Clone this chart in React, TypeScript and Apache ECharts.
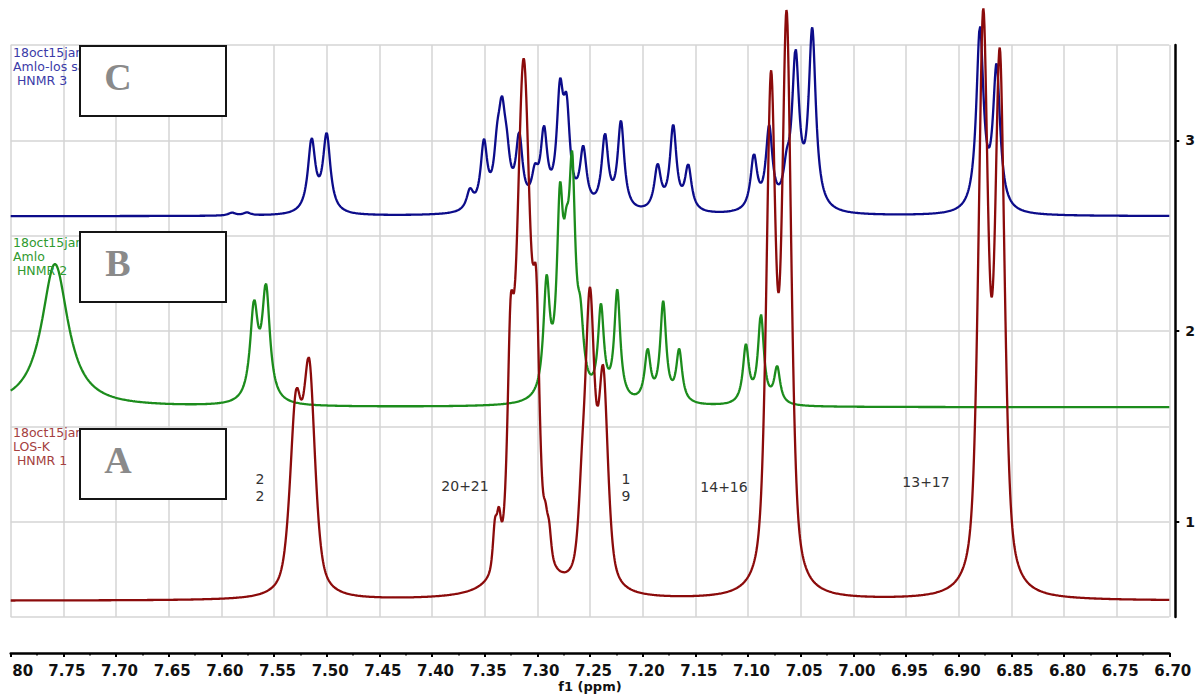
import React, { useEffect, useRef } from "react";
import * as echarts from "echarts";

// ---- axes ----
const PPM_MIN = 6.7;
const PPM_MAX = 7.8;
const PPM_STEP = 0.0005;
const PPM_TICK = 0.05;
const Y_MIN = 0.5;
const Y_MAX = 3.5;
const Y_STEP = 0.5;
const Y_LABELS = [1, 2, 3];

// ---- spectra: baselines, line-shape mix and peak tables [ppm, height, half-width (ppm)] ----
type Peak = [number, number, number];

const baselineA = 0.585; // LOS-K  HNMR 1
const baselineB = 1.6; // Amlo   HNMR 2
const baselineC = 2.602; // Amlo-los  HNMR 3

const lorentzFractionA = 0.6;
const lorentzFractionB = 1;
const lorentzFractionC = 1;

const peaksA: Peak[] = [
  [7.5293, 0.923, 0.0066],
  [7.5165, 1.122, 0.0066],
  [7.3403, 0.215, 0.0023],
  [7.3365, 0.215, 0.0023],
  [7.3255, 0.865, 0.0033],
  [7.313, 2.75, 0.008],
  [7.3009, 0.95, 0.0035],
  [7.2923, 0.14, 0.0023],
  [7.2888, 0.14, 0.0023],
  [7.2577, 0.3, 0.004],
  [7.2501, 1.46, 0.0053],
  [7.2374, 1.06, 0.0053],
  [7.0782, 2.58, 0.0052],
  [7.0633, 2.92, 0.0052],
  [6.8767, 2.93, 0.0054],
  [6.8609, 2.71, 0.0054],
];

const peaksB: Peak[] = [
  [7.758, 0.75, 0.0152],
  [7.569, 0.48, 0.0045],
  [7.5576, 0.58, 0.0045],
  [7.2912, 0.58, 0.0036],
  [7.2785, 0.91, 0.0036],
  [7.2724, 0.45, 0.0036],
  [7.2669, 1.05, 0.0036],
  [7.2591, 0.3, 0.0036],
  [7.2396, 0.47, 0.0034],
  [7.2241, 0.57, 0.0034],
  [7.1953, 0.26, 0.0034],
  [7.1805, 0.52, 0.0034],
  [7.1653, 0.27, 0.0034],
  [7.102, 0.3, 0.0034],
  [7.0877, 0.46, 0.0034],
  [7.0723, 0.19, 0.0034],
];

const peaksC: Peak[] = [
  [7.59, 0.015, 0.004],
  [7.5757, 0.015, 0.004],
  [7.5143, 0.375, 0.0043],
  [7.5, 0.404, 0.0043],
  [7.364, 0.1, 0.0038],
  [7.3507, 0.34, 0.0038],
  [7.3381, 0.24, 0.0038],
  [7.3336, 0.4, 0.0038],
  [7.3291, 0.2, 0.0038],
  [7.3172, 0.36, 0.0038],
  [7.3023, 0.15, 0.0038],
  [7.2937, 0.38, 0.0038],
  [7.2785, 0.55, 0.0038],
  [7.2722, 0.45, 0.0038],
  [7.2564, 0.3, 0.0038],
  [7.2358, 0.38, 0.0038],
  [7.2206, 0.46, 0.0038],
  [7.1858, 0.23, 0.0038],
  [7.171, 0.44, 0.0038],
  [7.1567, 0.23, 0.0038],
  [7.0944, 0.28, 0.0038],
  [7.0799, 0.42, 0.0038],
  [7.0633, 0.15, 0.0038],
  [7.0548, 0.78, 0.0041],
  [7.039, 0.93, 0.0041],
  [6.8798, 0.95, 0.0041],
  [6.864, 0.74, 0.0041],
];

// ---- texts ----
const SPECTRUM_LABELS = [
  { lines: ["18oct15jan", "Amlo-los salt", " HNMR 3"], color: "#3b3ba8", y: 52 },
  { lines: ["18oct15jan", "Amlo", " HNMR 2"], color: "#2f9a2f", y: 242 },
  { lines: ["18oct15jan", "LOS-K", " HNMR 1"], color: "#a44040", y: 432 },
];
const BOX_LETTERS = [
  { letter: "C", top: 46 },
  { letter: "B", top: 232 },
  { letter: "A", top: 429 },
];
const ASSIGNMENTS = [
  { text: "2", x: 260, y: 479 },
  { text: "2", x: 260, y: 496 },
  { text: "20+21", x: 465, y: 486 },
  { text: "1", x: 626, y: 479 },
  { text: "9", x: 626, y: 496 },
  { text: "14+16", x: 724, y: 487 },
  { text: "13+17", x: 926, y: 482 },
];

const COLOR_A = "#8b0b0b";
const COLOR_B = "#1c8c1c";
const COLOR_C = "#0c0c8a";

function spectrum(peaks: Peak[], base: number, eta: number): [number, number][] {
  const out: [number, number][] = [];
  const n = Math.round((PPM_MAX - PPM_MIN) / PPM_STEP);
  for (let i = 0; i <= n; i++) {
    const x = PPM_MIN + i * PPM_STEP;
    let y = base;
    for (const [c, h, w] of peaks) {
      const r = (x - c) / w;
      const r2 = r * r;
      y += h * (eta / (1 + r2) + (1 - eta) * Math.exp(-Math.LN2 * r2));
    }
    out.push([x, y]);
  }
  return out;
}

export default function App() {
  const ref = useRef<HTMLDivElement>(null);

  useEffect(() => {
    if (!ref.current) return;
    const chart = echarts.init(ref.current, undefined, { renderer: "svg" });

    const graphics: any[] = [];
    SPECTRUM_LABELS.forEach((s) => {
      s.lines.forEach((line, i) => {
        graphics.push({
          type: "text",
          x: 13,
          y: s.y + i * 14,
          z: 90,
          style: {
            text: line,
            fill: s.color,
            font: '12.5px "DejaVu Sans"',
            align: "left",
            verticalAlign: "middle",
          },
        });
      });
    });
    BOX_LETTERS.forEach((b) => {
      graphics.push({
        type: "rect",
        z: 100,
        shape: { x: 80, y: b.top, width: 146, height: 70 },
        style: { fill: "#ffffff", stroke: "#151515", lineWidth: 2 },
      });
      graphics.push({
        type: "text",
        z: 110,
        x: 118,
        y: b.top + 31,
        style: {
          text: b.letter,
          fill: "#8a8a8a",
          font: 'bold 38px "Liberation Serif"',
          align: "center",
          verticalAlign: "middle",
        },
      });
    });
    ASSIGNMENTS.forEach((a) => {
      graphics.push({
        type: "text",
        z: 90,
        x: a.x,
        y: a.y,
        style: {
          text: a.text,
          fill: "#333333",
          font: '14px "DejaVu Sans"',
          align: "center",
          verticalAlign: "middle",
        },
      });
    });

    const lineSeries = (name: string, data: [number, number][], color: string) => ({
      name,
      type: "line",
      data,
      showSymbol: false,
      symbol: "none",
      clip: false,
      silent: true,
      lineStyle: { color, width: 2.3 },
      z: 3,
    });

    chart.setOption({
      animation: false,
      backgroundColor: "#ffffff",
      grid: {
        left: 10.7,
        right: 29.7,
        top: 45,
        bottom: 77,
        containLabel: false,
        outerBoundsMode: "none",
      },
      xAxis: {
        type: "value",
        inverse: true,
        min: PPM_MIN,
        max: PPM_MAX,
        interval: PPM_TICK,
        position: "bottom",
        offset: 36,
        name: "f1 (ppm)",
        nameLocation: "middle",
        nameGap: 27,
        nameMoveOverlap: false,
        nameTextStyle: {
          fontFamily: "DejaVu Sans",
          fontWeight: "bold",
          fontSize: 13,
          color: "#111",
        },
        axisLine: { show: true, onZero: false, lineStyle: { color: "#000", width: 2.5 } },
        axisTick: { show: true, length: 4, lineStyle: { color: "#000", width: 2 } },
        minorTick: { show: true, splitNumber: 2, length: 2.5, lineStyle: { color: "#000", width: 1.5 } },
        axisLabel: {
          margin: 10,
          formatter: (v: number) =>
            Math.abs(v - PPM_MAX) < 1e-6 ? "{cut|80}" : "{n|" + v.toFixed(2) + "}",
          rich: {
            n: {
              fontFamily: "DejaVu Sans",
              fontWeight: "bold",
              fontSize: 15,
              color: "#111",
              padding: [0, 0, 0, 7],
            },
            cut: {
              fontFamily: "DejaVu Sans",
              fontWeight: "bold",
              fontSize: 15,
              color: "#111",
              padding: [0, 0, 0, 24],
            },
          },
        },
        splitLine: { show: true, lineStyle: { color: "#d4d4d4", width: 1.5 } },
      },
      yAxis: [
        {
          type: "value",
          min: Y_MIN,
          max: Y_MAX,
          interval: Y_STEP,
          position: "left",
          axisLine: { show: false },
          axisTick: { show: false },
          axisLabel: { show: false },
          splitLine: { show: true, lineStyle: { color: "#d4d4d4", width: 1.5 } },
        },
        {
          type: "value",
          min: Y_MIN,
          max: Y_MAX,
          interval: Y_STEP,
          position: "right",
          offset: 6,
          axisLine: { show: true, onZero: false, lineStyle: { color: "#000", width: 2.5 } },
          axisTick: {
            show: true,
            customValues: Y_LABELS,
            length: 4,
            lineStyle: { color: "#000", width: 2 },
          },
          axisLabel: {
            show: true,
            customValues: Y_LABELS,
            margin: 10,
            fontFamily: "DejaVu Sans",
            fontWeight: "bold",
            fontSize: 14,
            color: "#111",
            formatter: (v: number) => String(v),
          },
          splitLine: { show: false },
        },
      ],
      series: [
        lineSeries("HNMR 3", spectrum(peaksC, baselineC, lorentzFractionC), COLOR_C),
        lineSeries("HNMR 2", spectrum(peaksB, baselineB, lorentzFractionB), COLOR_B),
        lineSeries("HNMR 1", spectrum(peaksA, baselineA, lorentzFractionA), COLOR_A),
      ],
      graphic: graphics,
    });

    return () => chart.dispose();
  }, []);

  return (
    <div
      ref={ref}
      style={{ position: "fixed", left: 0, top: 0, width: 1199, height: 694, background: "#fff" }}
    />
  );
}
